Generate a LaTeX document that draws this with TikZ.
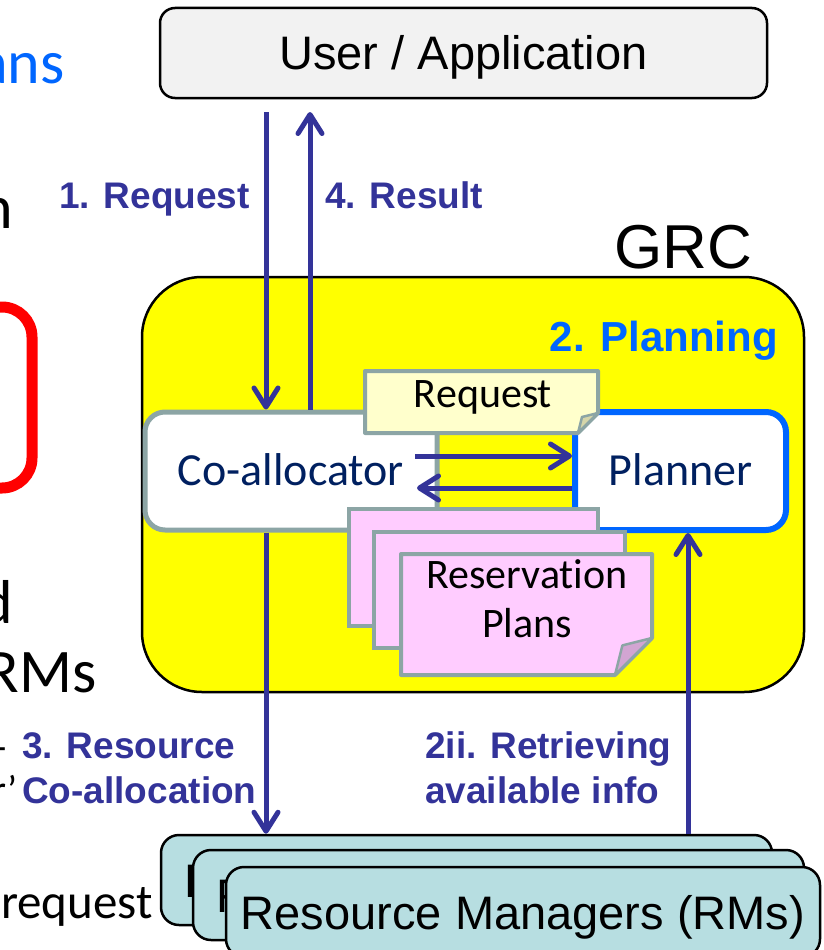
\documentclass[tikz,border=0pt]{standalone}
\usepackage{fontspec}
\setmainfont{Carlito}[Ligatures={NoCommon}]
\newfontfamily\arialfont{Liberation Sans}
\usetikzlibrary{arrows.meta}

\definecolor{arrowblue}{RGB}{51,51,153}
\definecolor{brightblue}{RGB}{0,102,255}
\definecolor{navy}{RGB}{0,32,96}
\definecolor{framegray}{RGB}{140,165,165}
\definecolor{noteyellow}{RGB}{255,255,204}
\definecolor{notefold}{RGB}{214,214,170}
\definecolor{notepink}{RGB}{255,204,255}
\definecolor{pinkfold}{RGB}{210,165,210}
\definecolor{rmteal}{RGB}{183,222,225}
\definecolor{userfill}{RGB}{242,242,242}
\definecolor{grcyellow}{RGB}{255,255,0}

% folded-corner note: x1 y1 x2 y2 fold fill foldfill
\newcommand\foldnote[7]{%
  \filldraw[draw=framegray, line width=4pt, fill=#6, line join=round]
    (#1,#2) -- (#3,#2) -- (#3,#4-#5) -- (#3-#5,#4) -- (#1,#4) -- cycle;
  \filldraw[draw=framegray, line width=2.5pt, fill=#7, line join=round]
    (#3,#4-#5) -- (#3-0.8*#5,#4-0.8*#5) -- (#3-#5,#4) -- cycle;}

\begin{document}
\begin{tikzpicture}[x=1pt,y=-1pt,
  flow/.style={draw=arrowblue, line width=5pt,
    -{Straight Barb[length=19pt,width=24pt,round]}},
  steplabel/.style={font=\arialfont\bfseries\fontsize{37}{44}\selectfont,
    text=arrowblue, inner sep=0pt},
  sidetext/.style={font=\fontsize{62}{70}\selectfont, inner sep=0pt},
  userbox/.style={draw=black, line width=2.5pt, fill=userfill,
    rounded corners=15pt, inner sep=0pt,
    font=\arialfont\fontsize{47}{56}\selectfont, text height=34pt, text depth=0pt},
  rmbox/.style={draw=black, line width=2.5pt, fill=rmteal,
    rounded corners=18pt, inner sep=0pt, minimum height=90pt,
    font=\arialfont\fontsize{47}{56}\selectfont, text height=34pt, text depth=0pt},
  compbox/.style={line width=5pt, fill=white, rounded corners=20pt,
    inner sep=0pt, minimum height=118pt, text=navy,
    font=\fontsize{46}{54}\selectfont, text height=29pt, text depth=0pt},
  notetext/.style={font=\fontsize{42}{49}\selectfont, inner sep=0pt}]

\useasboundingbox (0,0) rectangle (823,950);

\begin{scope}
\clip (0,0) rectangle (823,950);

% text fragments along the left margin
\node[sidetext, text=brightblue, anchor=base east] (fragA) at (65,83) {ans};
\node[sidetext, anchor=base east] (fragB) at (13,228) {n};
\draw[red, line width=11pt, rounded corners=30pt] (-120,307) rectangle (32,488);
\node[sidetext, anchor=base east] (fragC) at (13,623) {d};
\node[sidetext, anchor=base east] (fragD) at (97,692) {RMs};
\node[font=\fontsize{40}{46}\selectfont, inner sep=0pt, anchor=base east] (fragE) at (7,760) {-};
\node[font=\fontsize{40}{46}\selectfont, inner sep=0pt, anchor=base east] (fragF) at (18,803) {r’};
\node[font=\fontsize{49}{58}\selectfont, inner sep=0pt, anchor=base east] (fragG) at (153,918) {request};

% user / application
\node[userbox, minimum width=607pt, minimum height=90pt] (user) at (463.5,53) {User / Application};

% GRC container
\node[font=\arialfont\fontsize{62}{70}\selectfont, inner sep=0pt, anchor=base west] (grclabel) at (614,268) {GRC};
\filldraw[draw=black, line width=2.5pt, fill=grcyellow, rounded corners=60pt] (142,277) rectangle (804,692);
\node[font=\arialfont\bfseries\fontsize{42}{50}\selectfont, text=brightblue, inner sep=0pt, anchor=base east] (planlabel) at (778,351) {2. Planning};

% components
\node[compbox, draw=framegray, minimum width=292pt] (coalloc) at (291,471) {Co-allocator};
\node[compbox, draw=brightblue, line width=6pt, minimum width=211pt] (planner) at (680.5,471) {Planner};

% request note
\foldnote{365}{371}{598}{433}{20}{noteyellow}{notefold}
\node[notetext, anchor=base] (reqnote) at (483,407) {Request};

% reservation plans stack
\filldraw[draw=framegray, line width=4pt, fill=notepink] (349,509) rectangle (598,626);
\filldraw[draw=framegray, line width=4pt, fill=notepink] (374,532) rectangle (625,648);
\foldnote{401}{554}{652}{675}{37}{notepink}{pinkfold}
\node[notetext, anchor=base] (plan1) at (527,588) {Reservation};
\node[notetext, anchor=base] (plan2) at (527,637) {Plans};

% resource managers
\node[rmbox, minimum width=611pt] (rm1) at (466.5,880) {Resource Managers (RMs)};
\node[rmbox, minimum width=611pt] (rm2) at (498.5,895) {Resource Managers (RMs)};
\node[rmbox, minimum width=594pt] (rm3) at (523,912) {Resource Managers (RMs)};

% message flow
\coordinate (reqstart) at (266,112);
\coordinate (resend) at (310,112);
\draw[flow] (reqstart) -- (reqstart |- coalloc.north);
\draw[flow] (resend |- coalloc.north) -- (resend);

\coordinate (toplan) at (415,456);
\coordinate (fromplan) at (417,488);
\draw[flow] (toplan) -- (toplan -| planner.west);
\draw[flow] (fromplan -| planner.west) -- (fromplan);

\coordinate (alloccol) at (266,0);
\coordinate (infocol) at (688,0);
\draw[flow] (alloccol |- coalloc.south) -- (alloccol |- rm1.north);
\draw[flow] (infocol |- rm1.north) -- (infocol |- planner.south);

% step labels
\node[steplabel, anchor=base east] (l1) at (250,208) {1. Request};
\node[steplabel, anchor=base west] (l4) at (325,208) {4. Result};
\node[steplabel, anchor=base west] (l3a) at (22,758) {3. Resource};
\node[steplabel, anchor=base west] (l3b) at (22,803) {Co-allocation};
\node[steplabel, anchor=base west] (l2a) at (425,758) {2ii. Retrieving};
\node[steplabel, anchor=base west] (l2b) at (425,803) {available info};
\end{scope}
\end{tikzpicture}
\end{document}
